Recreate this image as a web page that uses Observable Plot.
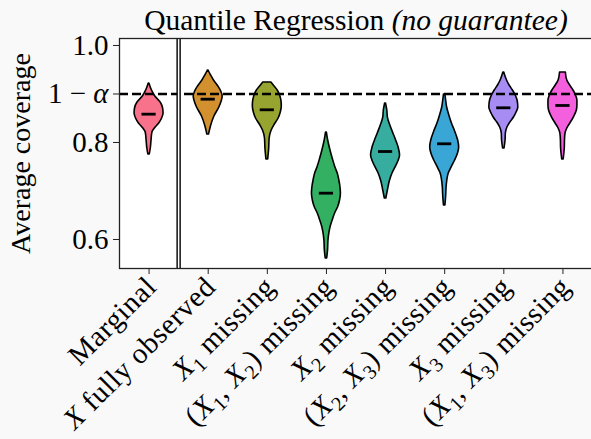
<!DOCTYPE html>
<html><head><meta charset="utf-8">
<script src="https://cdn.jsdelivr.net/npm/d3@7"></script>
<script src="https://cdn.jsdelivr.net/npm/@observablehq/plot@0.6"></script>
<style>
html,body{margin:0;padding:0;background:#f9f9f9;}
#chart{width:591px;height:439px;}
</style></head><body><div id="chart"></div>
<script>
// ---- data ----
const categories = ["Marginal", "X fully observed", "X₁ missing", "(X₁, X₂) missing",
  "X₂ missing", "(X₂, X₃) missing", "X₃ missing", "(X₁, X₃) missing"];
const colors = ["#f7728a", "#d3902f", "#97a42f", "#33b062", "#36ad9f", "#3aa6d6", "#a68cf3", "#f35fdc"];
const medians = [0.8584, 0.8893, 0.8674, 0.6955, 0.7814, 0.7973, 0.8715, 0.8763];
const yTicks = [0.6, 0.8, 0.9, 1.0];
const yTickLabels = ["0.6", "0.8", "1 − α", "1.0"];
const targetCoverage = 0.9;
const titleMain = "Quantile Regression";
const titleNote = "(no guarantee)";
const yLabel = "Average coverage";

// violin profiles: [coverage, relative density (1 = widest)]
const violinMarginal = [[0.9216,0.02],[0.9072,0.2],[0.8948,0.43],[0.8825,0.8],[0.8701,0.97],[0.8598,1],[0.8495,0.9],[0.8392,0.7],[0.8289,0.4],[0.8206,0.23],[0.8041,0.17],[0.7876,0.12],[0.7753,0.05]];
const violinFull = [[0.9485,0.02],[0.9381,0.2],[0.9278,0.4],[0.9155,0.7],[0.9052,0.9],[0.8948,1],[0.8845,0.93],[0.8722,0.77],[0.8536,0.43],[0.8330,0.19],[0.8165,0.06]];
const violinX1 = [[0.9237,0.28],[0.9155,0.5],[0.9072,0.72],[0.8969,0.88],[0.8866,0.97],[0.8742,1],[0.8619,0.93],[0.8495,0.78],[0.8371,0.52],[0.8247,0.3],[0.8082,0.16],[0.7876,0.13],[0.7649,0.06]];
const violinX1X2 = [[0.8206,0.03],[0.8041,0.12],[0.7835,0.28],[0.7649,0.45],[0.7485,0.62],[0.7361,0.78],[0.7216,0.89],[0.7072,0.97],[0.6948,1],[0.6804,0.94],[0.6660,0.8],[0.6536,0.6],[0.6392,0.43],[0.6247,0.28],[0.6124,0.2],[0.5979,0.14],[0.5773,0.11],[0.5608,0.05]];
const violinX2 = [[0.8804,0.03],[0.8660,0.12],[0.8515,0.16],[0.8351,0.33],[0.8186,0.54],[0.8041,0.73],[0.7897,0.9],[0.7732,1],[0.7608,0.88],[0.7485,0.69],[0.7361,0.48],[0.7216,0.31],[0.7010,0.16],[0.6845,0.05]];
const violinX2X3 = [[0.8990,0.05],[0.8866,0.1],[0.8722,0.17],[0.8557,0.32],[0.8392,0.5],[0.8227,0.72],[0.8041,0.93],[0.7897,1],[0.7773,0.92],[0.7629,0.72],[0.7485,0.48],[0.7361,0.28],[0.7216,0.18],[0.7072,0.13],[0.6887,0.1],[0.6701,0.05]];
const violinX3 = [[0.9443,0.03],[0.9278,0.22],[0.9175,0.4],[0.9072,0.63],[0.8969,0.82],[0.8866,0.95],[0.8722,1],[0.8619,0.88],[0.8515,0.7],[0.8412,0.45],[0.8309,0.25],[0.8186,0.14],[0.8041,0.12],[0.7876,0.05]];
const violinX1X3 = [[0.9443,0.2],[0.9278,0.3],[0.9175,0.5],[0.9072,0.73],[0.8969,0.9],[0.8866,1],[0.8763,1],[0.8660,0.96],[0.8515,0.75],[0.8392,0.51],[0.8289,0.3],[0.8186,0.18],[0.8041,0.14],[0.7897,0.13],[0.7649,0.05]];

const profiles = [violinMarginal, violinFull, violinX1, violinX1X2, violinX2, violinX2X3, violinX3, violinX1X3];
const rows = profiles.flatMap((p, i) => p.map(([y, d]) => ({i, y, d})));
const halfWidth = 0.245;
const FONT = "'Liberation Serif', 'DejaVu Serif', serif";
const XFS = 29, YFS = 29, TFS = 29.5, LFS = 28;

const plot = Plot.plot({
  width: 591, height: 439,
  marginLeft: 119, marginRight: -1, marginTop: 38, marginBottom: 171,
  x: {domain: [-0.5, 7.5], axis: null},
  y: {domain: [0.5402, 1.0144], axis: null},
  color: {type: "ordinal", domain: d3.range(categories.length), range: colors},
  style: {fontFamily: FONT, fontSize: "28px", background: "#f9f9f9", color: "black", overflow: "visible"},
  marks: [
    Plot.frame({fill: "white", stroke: null}),
    Plot.areaX(rows, {y: "y", x1: r => r.i - halfWidth * r.d, x2: r => r.i + halfWidth * r.d,
      z: "i", fill: "i", stroke: "black", strokeWidth: 1.6, curve: "monotone-y"}),
    Plot.ruleY([targetCoverage], {stroke: "black", strokeWidth: 2.4, strokeDasharray: "9,4"}),
    Plot.ruleY(medians, {y: d => d, x1: (d, i) => i - 0.12, x2: (d, i) => i + 0.12, stroke: "black", strokeWidth: 2.8}),
    Plot.ruleX([0.5], {stroke: "black", strokeWidth: 4.4}),
    Plot.ruleX([0.5], {stroke: "white", strokeWidth: 1.6}),
    Plot.frame({stroke: "#222", strokeWidth: 1.3}),
    Plot.axisY({ticks: yTicks, tickFormat: d => yTickLabels[yTicks.indexOf(d)], tickSize: 6, tickPadding: 5,
      label: null, fontSize: YFS, stroke: "#222"}),
    Plot.axisX({ticks: d3.range(categories.length), tickFormat: () => "", tickSize: 6, label: null, stroke: "#222"}),
    Plot.text(categories, {x: (d, i) => i, frameAnchor: "bottom", text: d => d, rotate: -45,
      textAnchor: "end", lineAnchor: "bottom", dx: 9, dy: 20, fontSize: XFS}),
    Plot.text([titleMain + " " + titleNote], {frameAnchor: "top", text: d => d, textAnchor: "middle", lineAnchor: "bottom", dy: -9, fontSize: TFS}),
    Plot.text([yLabel], {frameAnchor: "left", text: d => d, textAnchor: "middle", rotate: -90, lineAnchor: "bottom", dx: -90, fontSize: LFS})
  ]
});
document.getElementById("chart").append(plot);

// ---- rich text (italic math letters, subscripts) ----
const NS = "http://www.w3.org/2000/svg";
const subDigits = {"₁": "1", "₂": "2", "₃": "3"};
function rich(el, parts, fs) {
  el.textContent = "";
  let shift = 0;
  for (const p of parts) {
    const ts = document.createElementNS(NS, "tspan");
    ts.textContent = p.t;
    if (p.italic) ts.setAttribute("font-style", "italic");
    const want = p.sub ? 0.22 * fs : 0;
    if (want !== shift) { ts.setAttribute("dy", want - shift); shift = want; }
    if (p.sub) ts.setAttribute("font-size", 0.7 * fs);
    el.appendChild(ts);
  }
}
function parseLabel(s) {
  const parts = [];
  for (const ch of s) {
    if (ch === "X") parts.push({t: "X", italic: true});
    else if (subDigits[ch]) parts.push({t: subDigits[ch], sub: true});
    else if (parts.length && !parts[parts.length - 1].italic && !parts[parts.length - 1].sub) parts[parts.length - 1].t += ch;
    else parts.push({t: ch});
  }
  return parts;
}
for (const el of plot.querySelectorAll("text")) {
  const s = el.textContent;
  if (categories.includes(s)) {
    el.setAttribute("letter-spacing", "0.6");
    if (s !== "Marginal") rich(el, parseLabel(s), XFS);
  }
  else if (s === "1 − α") rich(el, [{t: "1 − "}, {t: "α", italic: true}], YFS);
  else if (s === titleMain + " " + titleNote) rich(el, [{t: titleMain + " "}, {t: titleNote, italic: true}], TFS);
}
</script></body></html>
